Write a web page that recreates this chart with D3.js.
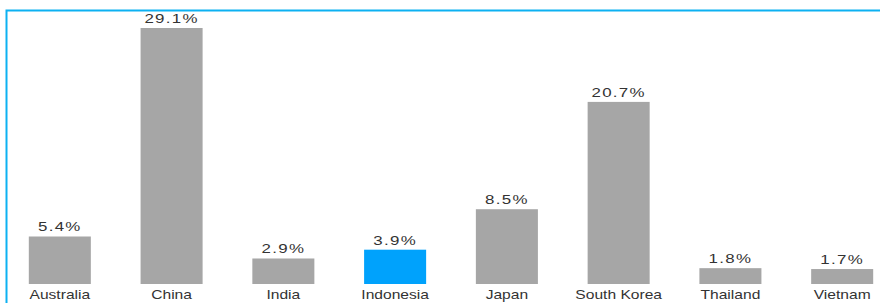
<!DOCTYPE html>
<html>
<head>
<meta charset="utf-8">
<script src="https://d3js.org/d3.v7.min.js"></script>
<style>
  body { margin: 0; background: #fff; }
  .bar-label, .cat-label { font-family: "Liberation Sans", Arial, sans-serif; fill: #333; }
  .bar-label { font-size: 13px; letter-spacing: 1px; }
  .cat-label { font-size: 12px; }
</style>
</head>
<body>
<div id="chart"></div>
<script>
// chart data
var countries = ["Australia", "China", "India", "Indonesia", "Japan", "South Korea", "Thailand", "Vietnam"]
var shares = [5.4, 29.1, 2.9, 3.9, 8.5, 20.7, 1.8, 1.7]
var highlight = "Indonesia"

var width = 880,
  height = 303

var svg = d3.select("#chart")
  .append("svg")
  .attr("width", width)
  .attr("height", height)

// light blue frame, only top and left edges are inside the window
svg.append("rect")
  .attr("x", 6.5)
  .attr("y", 10.5)
  .attr("width", width + 20)
  .attr("height", height + 20)
  .attr("fill", "none")
  .attr("stroke", "#0db1f2")
  .attr("stroke-width", 2)

// scales
var x = d3.scaleBand()
  .domain(countries)
  .range([4, 898])
  .paddingInner(0.445)
  .paddingOuter(0.222)

var y = d3.scaleLinear()
  .domain([0, 29.1])
  .range([284, 28])

var data = countries.map(function(c, i) { return { name: c, value: shares[i] } })

var bars = svg.append("g")
  .selectAll("g")
  .data(data)
  .enter().append("g")

bars.append("rect")
  .attr("x", function(d) { return x(d.name) })
  .attr("y", function(d) { return y(d.value) })
  .attr("width", x.bandwidth())
  .attr("height", function(d) { return y(0) - y(d.value) })
  .attr("fill", function(d) { return d.name === highlight ? "#00a2fc" : "#a6a6a6" })

// value labels (text looks horizontally stretched in the source)
bars.append("text")
  .attr("class", "bar-label")
  .attr("text-anchor", "middle")
  .attr("transform", function(d) {
    return "translate(" + (x(d.name) + x.bandwidth() / 2) + "," + (y(d.value) - 5) + ") scale(1.3,1)"
  })
  .text(function(d) { return d.value.toFixed(1) + "%" })

// category labels under the bars
bars.append("text")
  .attr("class", "cat-label")
  .attr("text-anchor", "middle")
  .attr("transform", function(d) {
    return "translate(" + (x(d.name) + x.bandwidth() / 2) + "," + (y(0) + 15) + ") scale(1.3,1)"
  })
  .text(function(d) { return d.name })
</script>
</body>
</html>
